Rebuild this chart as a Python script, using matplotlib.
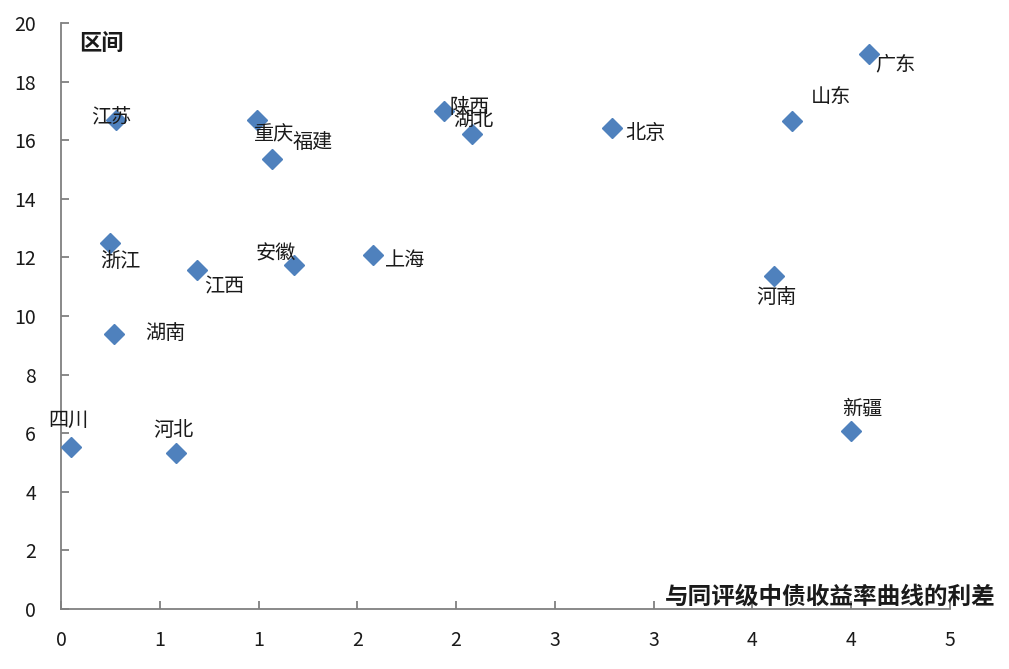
import matplotlib
matplotlib.use("Agg")
import matplotlib.pyplot as plt

plt.rcParams['font.family'] = ['Noto Sans CJK SC', 'DejaVu Sans']

# data
provinces = ['广东', '山东', '北京', '陕西', '湖北', '江苏', '重庆', '福建', '浙江',
             '江西', '安徽', '上海', '河南', '湖南', '四川', '河北', '新疆']
spread = [4.09, 3.70, 2.79, 1.94, 2.08, 0.28, 0.99, 1.07, 0.25,
          0.69, 1.18, 1.58, 3.61, 0.27, 0.05, 0.58, 4.00]
interval = [18.94, 16.65, 16.42, 17.00, 16.20, 16.69, 16.69, 15.36, 12.49,
            11.57, 11.74, 12.08, 11.37, 9.39, 5.53, 5.32, 6.08]
x_ticks = [0, 0.5, 1.0, 1.5, 2.0, 2.5, 3.0, 3.5, 4.0, 4.5]
x_tick_labels = ['0', '1', '1', '2', '2', '3', '3', '4', '4', '5']
y_ticks = [0, 2, 4, 6, 8, 10, 12, 14, 16, 18, 20]

# label offsets in pixels (dx, dy) from each marker
label_offsets = {
    '广东': (26, -11), '山东': (39, 24), '北京': (33, -6), '陕西': (25, 3),
    '湖北': (1, 14), '江苏': (-5, 2), '重庆': (17, -15), '福建': (40, 16),
    '浙江': (10, -18), '江西': (27, -17), '安徽': (-18, 11), '上海': (32, -5),
    '河南': (2, -22), '湖南': (51, 0), '四川': (-3, 27), '河北': (-2, 23),
    '新疆': (11, 22),
}

fig = plt.figure(figsize=(10.09, 6.69), dpi=100)
ax = fig.add_axes([0.0605, 0.0897, 0.881, 0.876])

ax.plot(spread, interval, linestyle='none', marker='D', markersize=9.7,
        color='#4F81BD', zorder=3)

for name, x, y in zip(provinces, spread, interval):
    dx, dy = label_offsets[name]
    ax.annotate(name, (x, y), xytext=(dx, dy), textcoords='offset pixels',
                ha='center', va='center', fontsize=14.5, color='#1a1a1a', zorder=4)

ax.set_xlim(0, 4.5)
ax.set_ylim(0, 20)
ax.set_xticks(x_ticks)
ax.set_xticklabels(x_tick_labels)
ax.set_yticks(y_ticks)

for side in ['top', 'right']:
    ax.spines[side].set_visible(False)
for side in ['left', 'bottom']:
    ax.spines[side].set_color('#808080')
    ax.spines[side].set_linewidth(1.3)

ax.tick_params(axis='both', direction='in', length=6, width=1.3, color='#808080',
               labelsize=14, labelcolor='#1a1a1a')
ax.tick_params(axis='x', pad=15)
ax.tick_params(axis='y', pad=18)

ax.text(0.02, 0.965, '区间', transform=ax.transAxes, fontsize=16,
        fontweight='bold', ha='left', va='center', color='#1a1a1a')
fig.text(0.9865, 0.108, '与同评级中债收益率曲线的利差', fontsize=17,
         fontweight='bold', ha='right', va='center', color='#1a1a1a')

fig.savefig('out.png', dpi=100)
